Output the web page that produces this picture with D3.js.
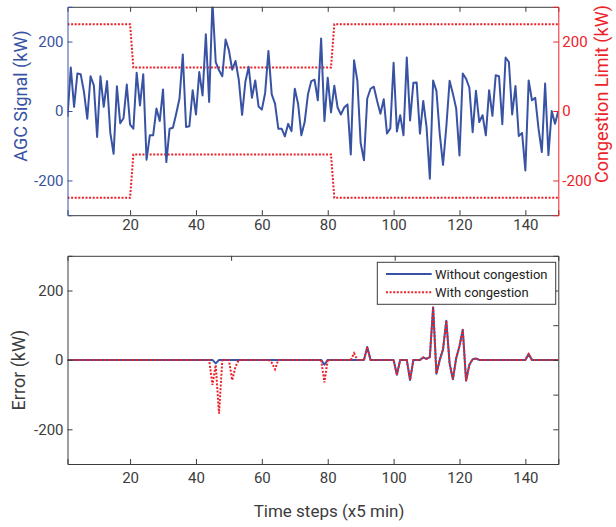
<!DOCTYPE html>
<html>
<head>
<meta charset="utf-8">
<script src="https://cdn.jsdelivr.net/npm/d3@7"></script>
<style>
  body { margin: 0; background: #fff; }
  svg { display: block; }
  text { font-family: Roboto, "Liberation Sans", sans-serif; }
</style>
</head>
<body>
<svg id="chart" width="616" height="527"></svg>
<script>
// AGC regulation signal (kW), one value per 5-minute time step
const agcSignal = [
  -17, 125, 12, 108, 106, 55, -22, 100, 74, -75,
  100, 12, 86, -63, -123, 71, -35, -21, 76, -39,
  -51, 110, 16, 106, -140, -70, -70, 7, -29, 62,
  -147, -51, -48, -8, 36, 163, -46, -44, 60, -10,
  112, 45, 221, 26, 315, 141, 117, 100, 206, 175,
  119, 144, 90, -11, 84, 127, 38, 88, 13, 4,
  52, 173, 48, 21, -51, -51, -73, -37, -58, 64,
  21, -70, -32, 48, 86, 90, 31, 209, -29, 96,
  -4, 73, 10, -10, 10, 19, -125, 146, 87, -92,
  -142, 36, 64, 70, 29, -8, 34, -65, -50, 139,
  -59, -12, -70, 154, -27, 81, 82, -65, 29, -46,
  -195, 88, 58, -65, -155, -46, 87, 50, 7, -128,
  108, 93, 67, -61, 58, -32, -12, -70, 60, -14,
  103, 100, -38, 154, 141, -10, 72, -72, -63, -171,
  88, 31, 38, -51, -118, 79, -127, 0, -37, 0
];

// Congestion limit breakpoints (time step, upper / lower limit in kW)
const limitSteps = [1, 20, 21, 81, 82, 150];
const limitUpper = [250, 250, 125, 125, 250, 250];
const limitLower = [-250, -250, -125, -125, -250, -250];

// Tracking error (kW) without and with the congestion limit
const errorWithout = [
  0, 0, 0, 0, 0, 0, 0, 0, 0, 0,
  0, 0, 0, 0, 0, 0, 0, 0, 0, 0,
  0, 0, 0, 0, 0, 0, 0, 0, 0, 0,
  0, 0, 0, 0, 0, 0, 0, 0, 0, 0,
  0, 0, 0, 0, 0, -10, 0, 0, 0, 0,
  0, 0, 0, 0, 0, 0, 0, 0, 0, 0,
  0, 0, 0, 0, 0, 0, 0, 0, 0, 0,
  0, 0, 0, 0, 0, 0, 0, 0, -14, 0,
  0, 0, 0, 0, 0, 0, 0, 0, 0, 0,
  0, 37, 0, 0, 0, 0, 0, 0, 0, 0,
  -43, 0, 0, 0, -58, 0, 0, 0, 7, 3,
  8, 152, -40, 0, 30, 113, -10, -56, 5, 40,
  87, -60, -14, 2, 4, 0, 0, 0, 0, 0,
  0, 0, 0, 0, 0, 0, 0, 0, 0, 0,
  17, 0, 0, 0, 0, 0, 0, 0, 0, 0
];
const errorWith = [
  0, 0, 0, 0, 0, 0, 0, 0, 0, 0,
  0, 0, 0, 0, 0, 0, 0, 0, 0, 0,
  0, 0, 0, 0, 0, 0, 0, 0, 0, 0,
  0, 0, 0, 0, 0, 0, 0, 0, 0, 0,
  0, 0, 0, 0, -72, -15, -155, 0, 0, 0,
  -58, -20, 0, 0, 0, 0, 0, 0, 0, 0,
  0, 0, -8, -27, 0, 0, 0, 0, 0, 0,
  0, 0, 0, 0, 0, 0, 0, 0, -65, 0,
  0, 0, 0, 0, 0, 0, 0, 19, 0, 0,
  0, 37, 0, 0, 0, 0, 0, 0, 0, 0,
  -43, 0, 0, 0, -58, 0, 0, 0, 7, 3,
  8, 152, -40, 0, 30, 113, -10, -56, 5, 40,
  87, -60, -14, 2, 4, 0, 0, 0, 0, 0,
  0, 0, 0, 0, 0, 0, 0, 0, 0, 0,
  17, 0, 0, 0, 0, 0, 0, 0, 0, 0
];

// Axis tick values and labels
const xTickValues = [20, 40, 60, 80, 100, 120, 140];
const yTickValues = [-200, 0, 200];
const legendLabels = ["Without congestion", "With congestion"];

const BLUE = "#3953a4";
const RED = "#ec2229";
const AXIS = "#3c3c3c";

const svg = d3.select("#chart");

const x = d3.scaleLinear().domain([1, 150]).range([67.5, 558.3]);
const yTop = d3.scaleLinear().domain([-300, 300]).range([215.2, 6.8]);
const yBot = d3.scaleLinear().domain([-300, 300]).range([464, 255.8]);
// companion box axes of the lower panel
const xBox = d3.scaleLinear().domain([0, 150]).range([67.5, 558.3]);

const fmt = d => String(d);

function styleAxis(g, color, size) {
  g.select(".domain").attr("stroke", color).attr("stroke-width", 1);
  g.selectAll(".tick line").attr("stroke", color).attr("stroke-width", 1);
  g.selectAll(".tick text").attr("fill", color).attr("font-size", size)
    .attr("font-family", "Roboto, sans-serif");
}

svg.append("clipPath").attr("id", "clipTop").append("rect")
  .attr("x", 67.5).attr("y", 6.8).attr("width", 558.3 - 67.5).attr("height", 215.2 - 6.8);
svg.append("clipPath").attr("id", "clipBot").append("rect")
  .attr("x", 67.5).attr("y", 255.8).attr("width", 558.3 - 67.5).attr("height", 464 - 255.8);

// ---------- upper panel: AGC signal and congestion limits ----------
const upper = svg.append("g");

const limitLine = d3.line().x((d, i) => x(limitSteps[i])).y(d => yTop(d));
[limitUpper, limitLower].forEach(arr => {
  upper.append("path").datum(arr)
    .attr("d", limitLine)
    .attr("fill", "none").attr("stroke", RED).attr("stroke-width", 2)
    .attr("stroke-dasharray", "2,1.6")
    .attr("clip-path", "url(#clipTop)");
});

upper.append("path").datum(agcSignal)
  .attr("d", d3.line().x((d, i) => x(i + 1)).y(d => yTop(d)))
  .attr("fill", "none").attr("stroke", BLUE).attr("stroke-width", 2)
  .attr("stroke-linejoin", "round")
  .attr("clip-path", "url(#clipTop)");

upper.append("g").attr("transform", "translate(0,6.8)")
  .call(d3.axisTop(x).tickValues(xTickValues).tickSize(-5).tickFormat(""))
  .call(g => styleAxis(g, AXIS, 15));
upper.append("g").attr("transform", "translate(0,215.2)")
  .call(d3.axisBottom(x).tickValues(xTickValues).tickSize(-5).tickPadding(4).tickFormat(fmt))
  .call(g => styleAxis(g, AXIS, 15));
upper.append("g").attr("transform", "translate(67.5,0)")
  .call(d3.axisLeft(yTop).tickValues(yTickValues).tickSize(-5).tickPadding(4).tickFormat(fmt))
  .call(g => styleAxis(g, BLUE, 15));
upper.append("g").attr("transform", "translate(558.3,0)")
  .call(d3.axisRight(yTop).tickValues(yTickValues).tickSize(-5).tickPadding(4).tickFormat(fmt))
  .call(g => styleAxis(g, RED, 15));

upper.append("text")
  .attr("transform", "translate(27,96) rotate(-90)")
  .attr("text-anchor", "middle").attr("fill", BLUE).attr("font-size", 18)
  .text("AGC Signal (kW)");
upper.append("text")
  .attr("transform", "translate(608,94) rotate(-90)")
  .attr("text-anchor", "middle").attr("fill", RED).attr("font-size", 18)
  .text("Congestion Limit (kW)");

// ---------- lower panel: tracking error ----------
const lower = svg.append("g");

lower.append("path").datum(errorWithout)
  .attr("d", d3.line().x((d, i) => x(i + 1)).y(d => yBot(d)))
  .attr("fill", "none").attr("stroke", BLUE).attr("stroke-width", 2)
  .attr("stroke-linejoin", "round")
  .attr("clip-path", "url(#clipBot)");
lower.append("path").datum(errorWith)
  .attr("d", d3.line().x((d, i) => x(i + 1)).y(d => yBot(d)))
  .attr("fill", "none").attr("stroke", RED).attr("stroke-width", 2)
  .attr("stroke-dasharray", "2,1.6")
  .attr("clip-path", "url(#clipBot)");

lower.append("g").attr("transform", "translate(0,255.8)")
  .call(d3.axisTop(xBox).tickValues([50, 100]).tickSize(-5).tickFormat(""))
  .call(g => styleAxis(g, AXIS, 15));
lower.append("g").attr("transform", "translate(0,464)")
  .call(d3.axisBottom(x).tickValues(xTickValues).tickSize(-5).tickPadding(8).tickFormat(fmt))
  .call(g => styleAxis(g, AXIS, 15));
lower.append("g").attr("transform", "translate(67.5,0)")
  .call(d3.axisLeft(yBot).tickValues(yTickValues).tickSize(-5).tickPadding(4).tickFormat(fmt))
  .call(g => styleAxis(g, AXIS, 15));
lower.append("g").attr("transform", "translate(558.3,0)")
  .call(d3.axisRight(yBot).tickValues([-200, -100, 0, 100, 200]).tickSize(-5).tickFormat(""))
  .call(g => styleAxis(g, AXIS, 15));

lower.append("text")
  .attr("transform", "translate(25,370) rotate(-90)")
  .attr("text-anchor", "middle").attr("fill", AXIS).attr("font-size", 18)
  .text("Error (kW)");
lower.append("text")
  .attr("x", 329).attr("y", 517)
  .attr("text-anchor", "middle").attr("fill", AXIS).attr("font-size", 17)
  .text("Time steps (x5 min)");

// legend
const leg = lower.append("g");
leg.append("rect")
  .attr("x", 377.3).attr("y", 262.3).attr("width", 555.7 - 377.3).attr("height", 304.3 - 262.3)
  .attr("fill", "#fff").attr("stroke", AXIS).attr("stroke-width", 1);
const legStyles = [
  { color: BLUE, dash: null },
  { color: RED, dash: "2,1.6" }
];
legendLabels.forEach((label, i) => {
  const yy = 274 + i * 18.3;
  leg.append("line")
    .attr("x1", 386).attr("x2", 431.7).attr("y1", yy).attr("y2", yy)
    .attr("stroke", legStyles[i].color).attr("stroke-width", 2)
    .attr("stroke-dasharray", legStyles[i].dash);
  leg.append("text")
    .attr("x", 435).attr("y", yy).attr("dy", "0.35em")
    .attr("fill", "#222").attr("font-size", 13)
    .text(label);
});
</script>
</body>
</html>
